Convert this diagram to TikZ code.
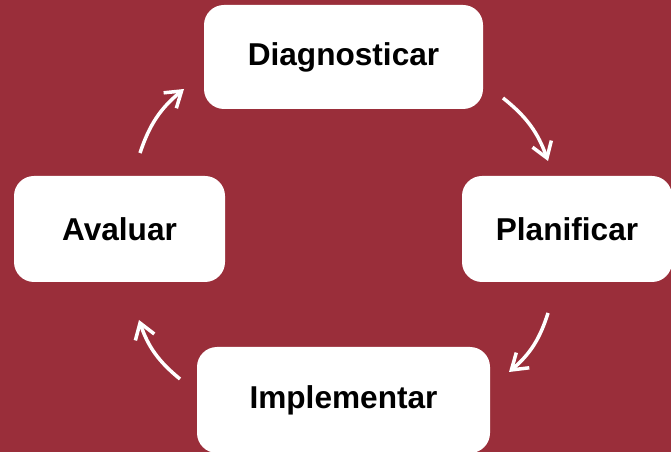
\documentclass[tikz,border=0pt]{standalone}
\usepackage{fontspec}
\setmainfont{Liberation Sans}
\usetikzlibrary{arrows.meta}

\definecolor{granat}{HTML}{9A2E3A}
\tikzset{
    etapa/.style={fill=white, rounded corners=20pt, font=\fontsize{31.6}{37}\selectfont\bfseries, inner sep=0pt},
    fletxa/.style={draw=white, line width=3.5pt, -{Straight Barb[length=15pt,width=20pt]}, bend left=16}
}

\begin{document}
\begin{tikzpicture}[x=1pt, y=1pt]
        \useasboundingbox (0, 0) rectangle (671, 452);
        \clip (0, 0) rectangle (671, 452);
        \fill[granat] (0, 0) rectangle (671, 452);
        \node[etapa, minimum width=279pt, minimum height=104pt] (diag) at (343.5, 395) {Diagnosticar};
        \node[etapa, minimum width=210pt, minimum height=106pt] (plan) at (567, 223) {Planificar};
        \node[etapa, minimum width=293pt, minimum height=106pt] (impl) at (343.5, 52) {Implementar};
        \node[etapa, minimum width=211pt, minimum height=106pt] (aval) at (119.5, 223) {Avaluar};
        % extrems de les fletxes
        \coordinate (d1) at (503, 354);
        \coordinate (p0) at (548, 291);
        \coordinate (p1) at (548, 139);
        \coordinate (i0) at (509, 80);
        \coordinate (i1) at (180, 73);
        \coordinate (a0) at (139, 132);
        \coordinate (a1) at (140, 299);
        \coordinate (d0) at (184, 363);
        \draw[fletxa] (d1) to (p0);
        \draw[fletxa] (p1) to (i0);
        \draw[fletxa] (i1) to (a0);
        \draw[fletxa] (a1) to (d0);
    \end{tikzpicture}
\end{document}
